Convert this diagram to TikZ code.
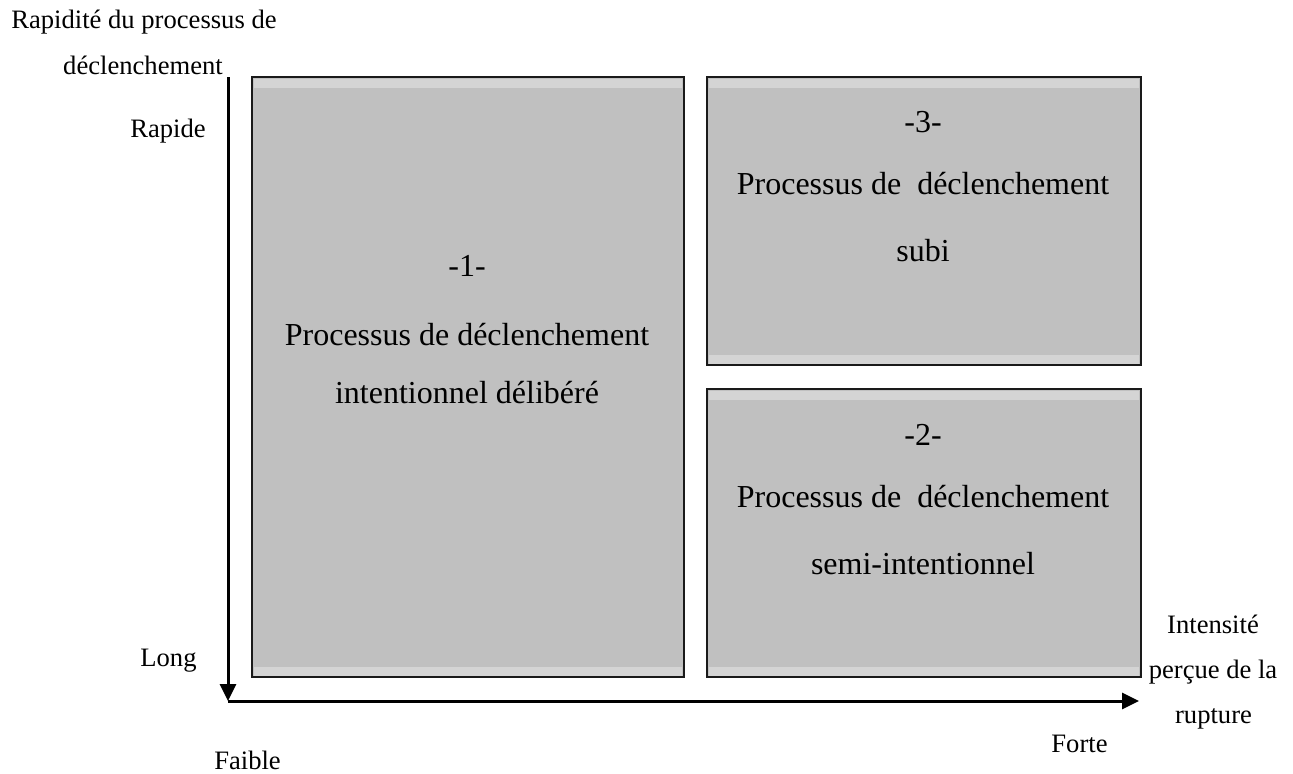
\documentclass[tikz,border=0pt]{standalone}
\usepackage{fontspec}
\setmainfont{Liberation Serif}
\usetikzlibrary{arrows.meta}
\definecolor{boxfill}{HTML}{C0C0C0}
\definecolor{bandfill}{HTML}{D4D4D4}
\definecolor{edgecol}{HTML}{1A1A1A}
\begin{document}
\begin{tikzpicture}[x=0.5pt,y=-0.5pt,
  lab/.style={font=\fontsize{13.3}{15}\selectfont, inner sep=0pt, anchor=base},
  boxtxt/.style={font=\fontsize{16}{18}\selectfont, inner sep=0pt, anchor=base},
  panel/.style={fill=boxfill, draw=none, inner sep=0pt, rectangle},
  band/.style={fill=bandfill},
  frame/.style={draw=edgecol, line width=1pt},
  axis/.style={line width=1.5pt, -{Triangle[length=8.5pt,width=8pt]}}
]
\useasboundingbox (0,0) rectangle (1293,773);

% panels
\node[panel, minimum width=216pt, minimum height=300pt] (b1) at (468,377) {};
\node[panel, minimum width=217pt, minimum height=144pt] (b3) at (924,221) {};
\node[panel, minimum width=217pt, minimum height=144pt] (b2) at (924,533) {};

\foreach \b in {b1,b2,b3}{
  \fill[band] ([xshift=1pt,yshift=-1pt]\b.north west) rectangle ([xshift=-1pt,yshift=-5.5pt]\b.north east);
  \fill[band] ([xshift=1pt,yshift=0.5pt]\b.south west) rectangle ([xshift=-1pt,yshift=5pt]\b.south east);
  \draw[frame] (\b.north west) rectangle (\b.south east);
}

% panel texts
\node[boxtxt] (t1a) at (467,276) {-1-};
\node[boxtxt] (t1b) at (467,345) {Processus de déclenchement};
\node[boxtxt] (t1c) at (467,403) {intentionnel délibéré};

\node[boxtxt] (t3a) at (923,132) {-3-};
\node[boxtxt] (t3b) at (923,194) {Processus de\ \ déclenchement};
\node[boxtxt] (t3c) at (923,261) {subi};

\node[boxtxt] (t2a) at (923,445) {-2-};
\node[boxtxt] (t2b) at (923,507) {Processus de\ \ déclenchement};
\node[boxtxt] (t2c) at (923,574) {semi-intentionnel};

% axes
\coordinate (ytop) at (228,77);
\coordinate (origin) at (228,701);
\coordinate (xend) at (1139,701);
\draw[axis] (ytop) -- (origin);
\draw[axis] (origin) -- (xend);

% axis labels
\node[lab] (ylab1) at (144,28) {Rapidité du processus de};
\node[lab] (ylab2) at (143,74) {déclenchement};
\node[lab] (rapide) at (168,137) {Rapide};
\node[lab] (long) at (168.5,666) {Long};
\node[lab] (faible) at (247.5,769) {Faible};
\node[lab] (forte) at (1079.5,752) {Forte};
\node[lab] (xlab1) at (1213,633) {Intensité};
\node[lab] (xlab2) at (1213,678) {perçue de la};
\node[lab] (xlab3) at (1213.5,723) {rupture};
\end{tikzpicture}
\end{document}
